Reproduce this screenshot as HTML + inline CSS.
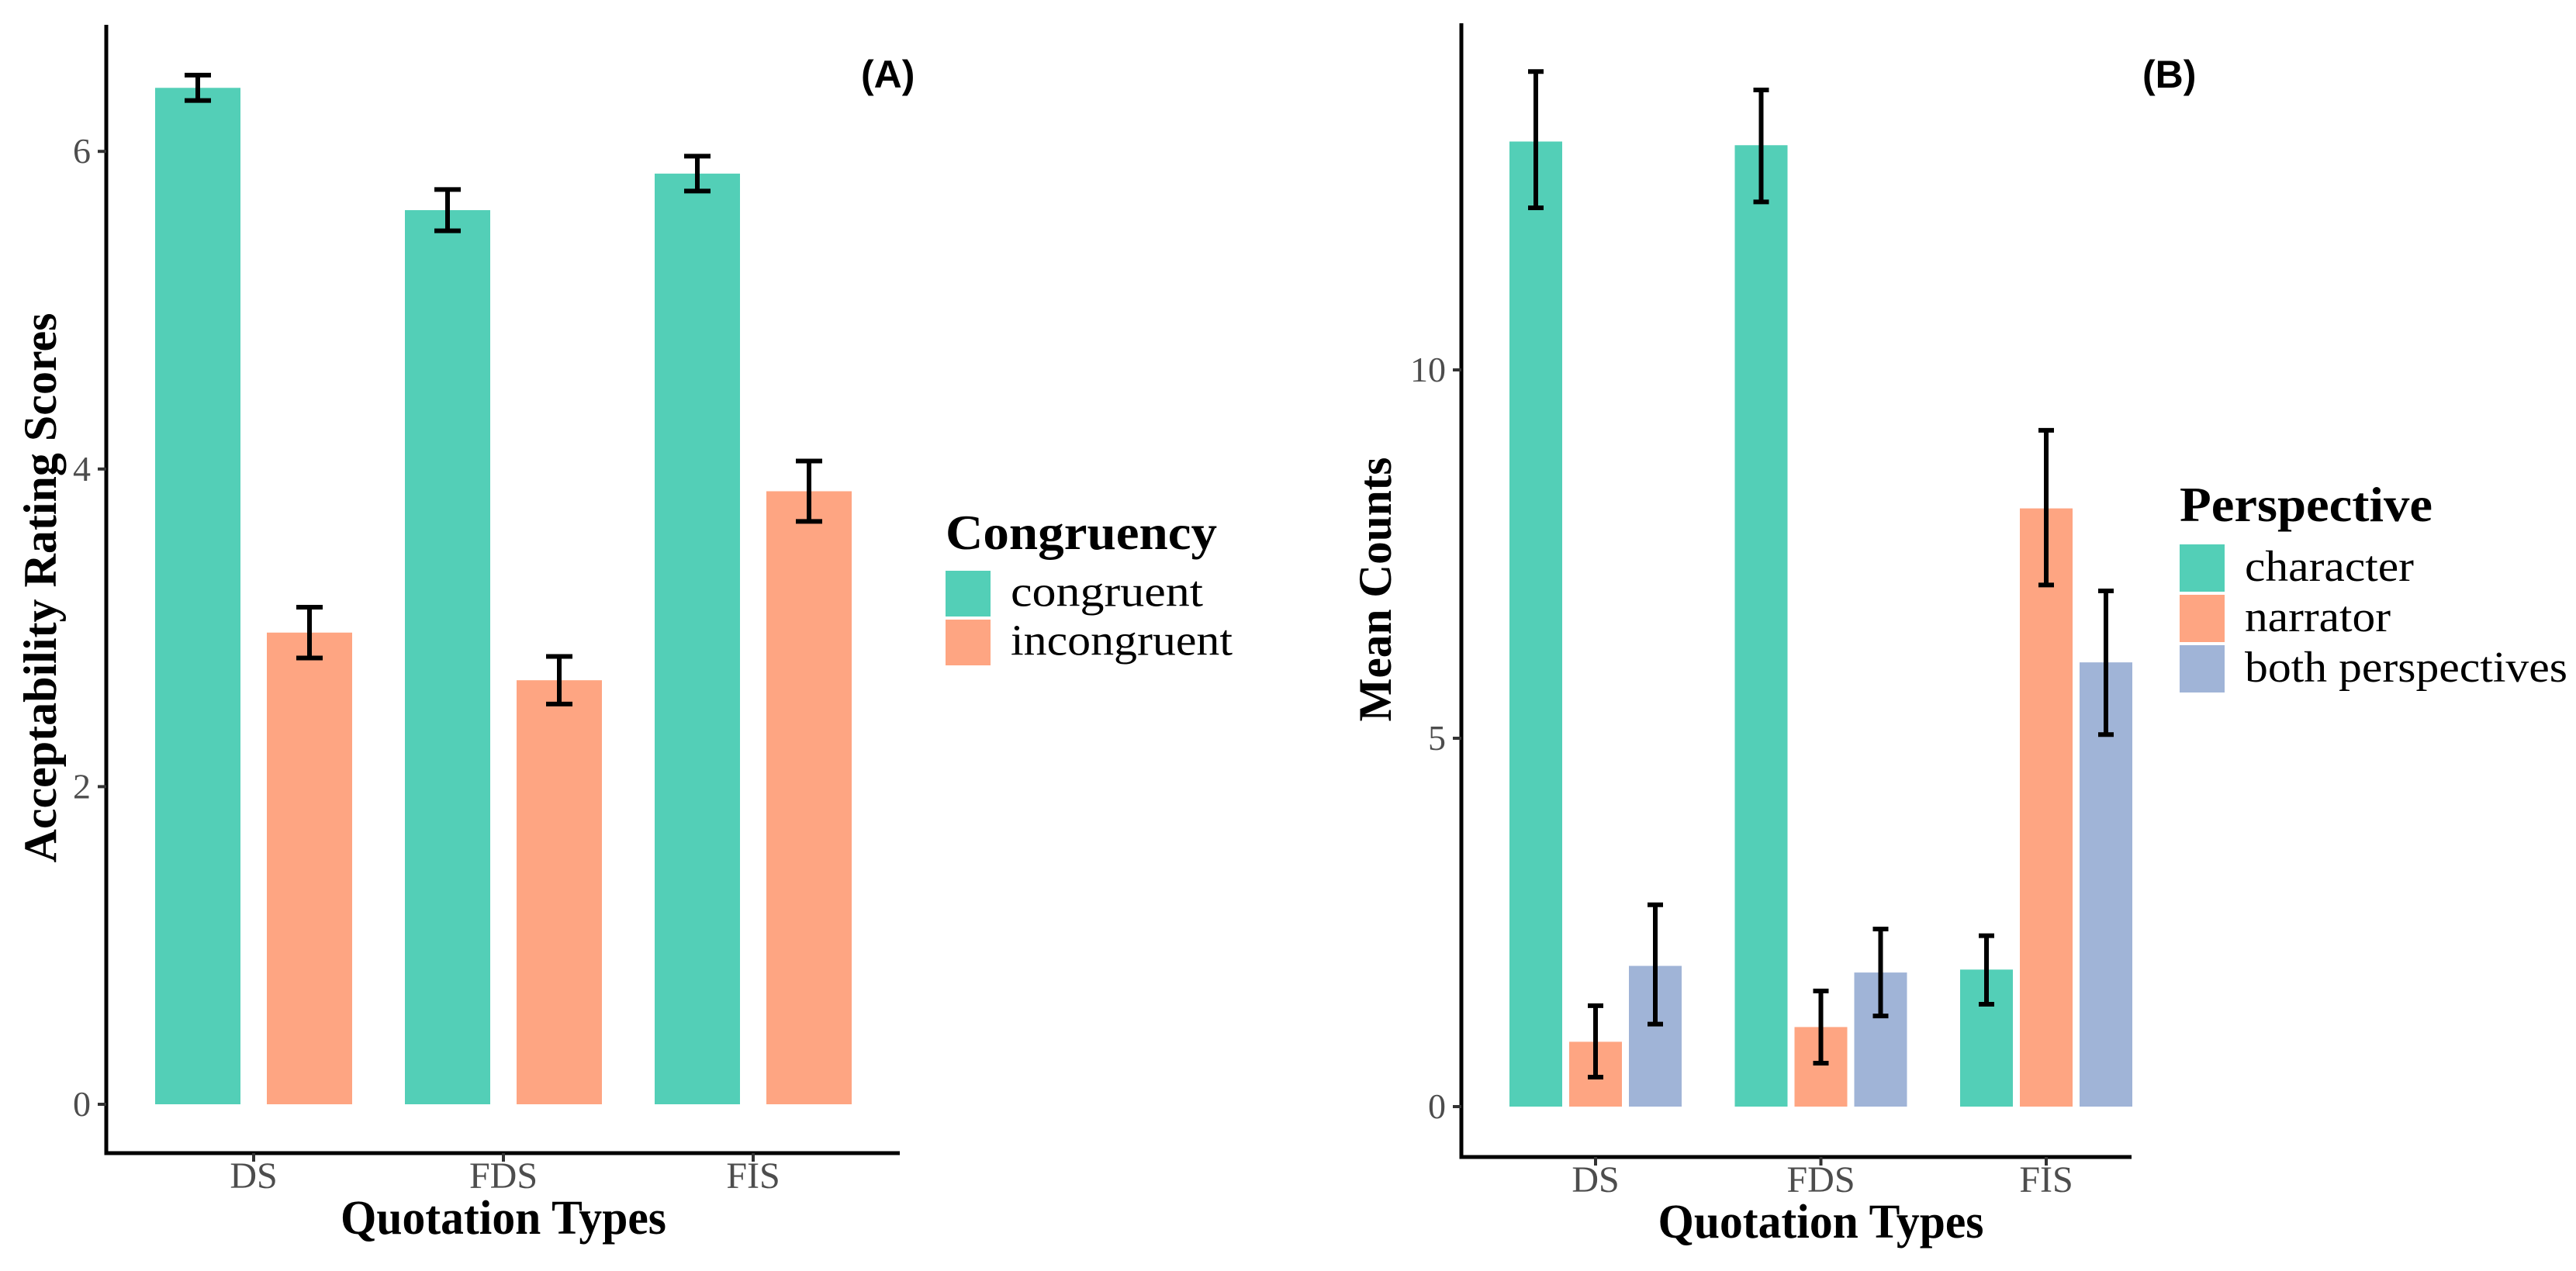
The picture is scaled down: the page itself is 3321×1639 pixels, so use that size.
<!DOCTYPE html>
<html><head><meta charset="utf-8"><style>
html,body{margin:0;padding:0;background:#fff;}
svg{display:block;}
text{font-family:"Liberation Serif",serif;}
</style></head><body>
<svg id="chart" width="3321" height="1639" viewBox="0 0 3321 1639" xmlns="http://www.w3.org/2000/svg">
<rect x="0" y="0" width="3321" height="1639" fill="#fff"/>
<g id="pa"></g>
<g id="pb"></g>
</svg>
<script>
// Panel A data
const catsA = ["DS","FDS","FIS"];
const seriesA = ["congruent","incongruent"];
const congruentVals = [6.40, 5.63, 5.86];
const congruentLo = [6.32, 5.50, 5.75];
const congruentHi = [6.48, 5.76, 5.97];
const incongruentVals = [2.97, 2.67, 3.86];
const incongruentLo = [2.81, 2.52, 3.67];
const incongruentHi = [3.13, 2.82, 4.05];
const ticksA = [0, 2, 4, 6];
// Panel B data
const catsB = ["DS","FDS","FIS"];
const seriesB = ["character","narrator","both perspectives"];
const characterVals = [13.10, 13.05, 1.86];
const characterLo = [12.20, 12.28, 1.39];
const characterHi = [14.05, 13.80, 2.32];
const narratorVals = [0.88, 1.08, 8.12];
const narratorLo = [0.40, 0.59, 7.08];
const narratorHi = [1.37, 1.57, 9.18];
const bothVals = [1.91, 1.82, 6.03];
const bothLo = [1.12, 1.23, 5.05];
const bothHi = [2.74, 2.41, 7.00];
const ticksB = [0, 5, 10];

const colors = ["#53cfb7", "#fea582", "#a0b4d7"];
const NS = "http://www.w3.org/2000/svg";
function mk(parent, tag, attrs, txt){
  const e = document.createElementNS(NS, tag);
  for (const k in attrs) e.setAttribute(k, attrs[k]);
  if (txt !== undefined) e.textContent = txt;
  parent.appendChild(e);
  return e;
}

function panel(g, cfg){
  const y = v => cfg.y0 - v * cfg.ppu;
  const x = i => cfg.c0 + i * cfg.step;
  cfg.series.forEach((s, si) => {
    cfg.vals[si].forEach((v, ci) => {
      const cx = x(ci) + cfg.offs[si];
      const r = mk(g, "rect", {x: cx - cfg.bw/2, y: y(v), width: cfg.bw, height: cfg.y0 - y(v), fill: colors[si]});
      
      
    });
  });
  cfg.series.forEach((s, si) => {
    cfg.vals[si].forEach((v, ci) => {
      const cx = x(ci) + cfg.offs[si];
      const lo = y(cfg.lo[si][ci]), hi = y(cfg.hi[si][ci]);
      const eg = mk(g, "g", {stroke: "#000", "stroke-width": 6, fill: "none"});
      
      
      mk(eg, "line", {x1: cx, x2: cx, y1: lo, y2: hi});
      mk(eg, "line", {x1: cx - cfg.cw/2, x2: cx + cfg.cw/2, y1: lo, y2: lo});
      mk(eg, "line", {x1: cx - cfg.cw/2, x2: cx + cfg.cw/2, y1: hi, y2: hi});
    });
  });
  const ax = mk(g, "path", {d: `M${cfg.ax} ${cfg.atop} V${cfg.xa} H${cfg.aright}`, stroke: "#000", "stroke-width": 5, fill: "none"});
  
  
  cfg.ticks.forEach(t => {
    mk(g, "line", {x1: cfg.ax - 11, x2: cfg.ax, y1: y(t), y2: y(t), stroke: "#333", "stroke-width": 4});
    const tl = mk(g, "text", {x: cfg.ax - 20, y: y(t) + 15, "text-anchor": "end", "font-size": 46, fill: "#4d4d4d"}, String(t));
    
    
  });
  cfg.cats.forEach((c, ci) => {
    mk(g, "line", {x1: x(ci), x2: x(ci), y1: cfg.xa, y2: cfg.xa + 11, stroke: "#333", "stroke-width": 4});
    const tl = mk(g, "text", {x: x(ci), y: cfg.xa + 45, "text-anchor": "middle", "font-size": 48, fill: "#4d4d4d"}, c);
    
    
  });
  const xt = mk(g, "text", {x: x(1), y: cfg.xa + 104, "text-anchor": "middle", "font-size": 62, "font-weight": "bold", textLength: 420, lengthAdjust: "spacingAndGlyphs"}, "Quotation Types");
  
  
  const yt = mk(g, "text", {x: 0, y: 0, "text-anchor": "middle", "font-size": 60, "font-weight": "bold", textLength: cfg.ytLen, lengthAdjust: "spacingAndGlyphs", transform: `translate(${cfg.ytx},${cfg.yty}) rotate(-90)`}, cfg.ytitle);
  
  
  const pl = mk(g, "text", {x: cfg.plx, y: 113, "font-size": 50, "font-weight": "bold", style: "font-family:'Liberation Sans',sans-serif"}, cfg.plabel);
  
  
  const lt = mk(g, "text", {x: cfg.lx, y: cfg.lty, "font-size": 64, "font-weight": "bold", textLength: cfg.ltLen, lengthAdjust: "spacingAndGlyphs"}, cfg.ltitle);
  
  
  cfg.series.forEach((s, si) => {
    const ky = cfg.ly0 + si * cfg.lstep;
    const lg = mk(g, "g", {});
    
    
    mk(lg, "rect", {x: cfg.lx, y: ky, width: 58, height: cfg.lstep - 4, fill: colors[si]});
    mk(lg, "text", {x: cfg.lx + 84, y: ky + cfg.lstep*0.72, "font-size": 56, textLength: cfg.lLens[si], lengthAdjust: "spacingAndGlyphs"}, s);
  });
}

panel(document.getElementById("pa"), {
  cats: catsA, series: seriesA,
  vals: [congruentVals, incongruentVals], lo: [congruentLo, incongruentLo], hi: [congruentHi, incongruentHi],
  ticks: ticksA, y0: 1424, ppu: 204.8, c0: 327, step: 322, offs: [-72, 72], bw: 110, cw: 34,
  ax: 137, atop: 32, xa: 1487, aright: 1160,
  ytitle: "Acceptability Rating Scores", ytx: 72, yty: 758, ytLen: 709,
  plabel: "(A)", plx: 1110,
  ltitle: "Congruency", ltLen: 350, lx: 1219, lty: 708, ly0: 736, lstep: 63, lLens: [248, 286]
});
panel(document.getElementById("pb"), {
  cats: catsB, series: seriesB,
  vals: [characterVals, narratorVals, bothVals], lo: [characterLo, narratorLo, bothLo], hi: [characterHi, narratorHi, bothHi],
  ticks: ticksB, y0: 1427, ppu: 95, c0: 2057, step: 290.5, offs: [-77, 0, 77], bw: 68, cw: 20,
  ax: 1884, atop: 30, xa: 1492, aright: 2748,
  ytitle: "Mean Counts", ytx: 1793, yty: 760, ytLen: 341,
  plabel: "(B)", plx: 2762,
  ltitle: "Perspective", ltLen: 326, lx: 2810, lty: 672, ly0: 702, lstep: 65, lLens: [218, 188, 416]
});
</script>
</body></html>
